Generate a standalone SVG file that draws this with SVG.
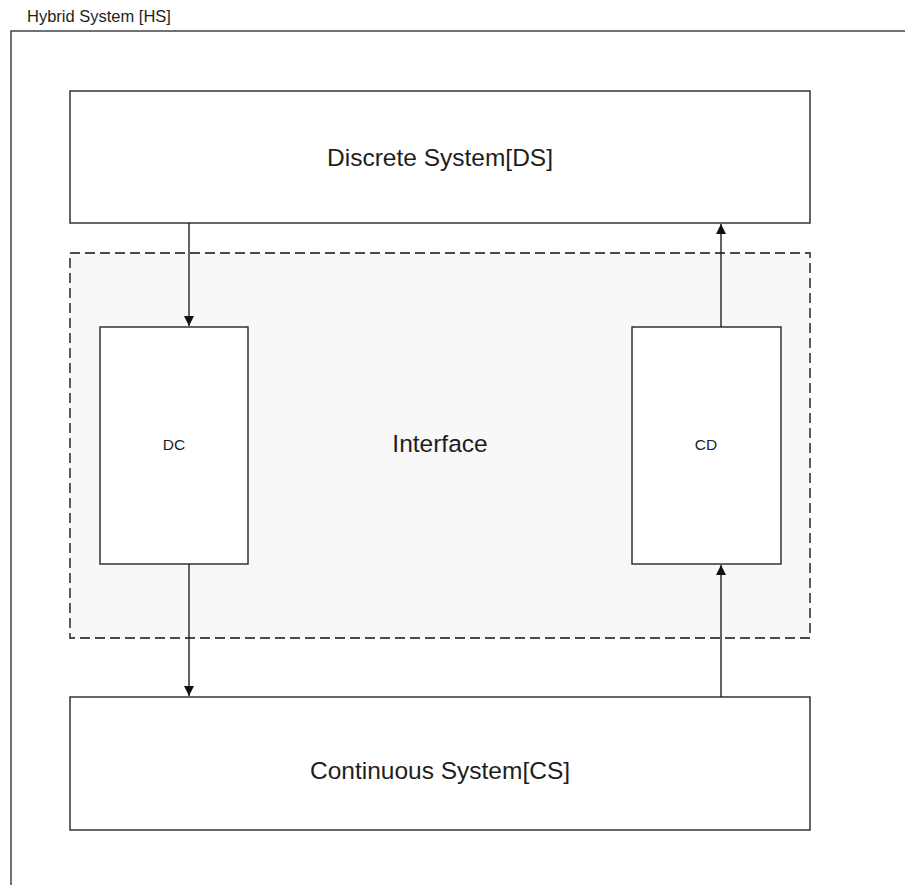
<svg xmlns="http://www.w3.org/2000/svg" width="905" height="885" viewBox="0 0 905 885">
  <style>
    .box { fill: #ffffff; stroke: #333333; stroke-width: 1.5; }
    .iface { fill: #f8f8f8; stroke: #4a4a4a; stroke-width: 1.8; stroke-dasharray: 10 5; }
    .frame { fill: none; stroke: #444444; stroke-width: 1.5; }
    .conn { stroke: #222222; stroke-width: 1.4; fill: none; marker-end: url(#arrow); }
    text { font-family: "Liberation Sans", Arial, sans-serif; fill: #1e1e1e; text-anchor: middle; }
    .big { font-size: 24.5px; }
    .small { font-size: 15.5px; }
    .title { font-size: 16.5px; text-anchor: start; }
  </style>
  <defs>
    <marker id="arrow" viewBox="0 0 10 10" refX="10" refY="5" markerWidth="10" markerHeight="11" markerUnits="userSpaceOnUse" orient="auto">
      <path d="M0,0 L10,5 L0,10 z" fill="#111111"/>
    </marker>
  </defs>
  <rect width="905" height="885" fill="#ffffff"/>

  <!-- outer system frame -->
  <g id="hybrid-system">
    <path class="frame" d="M11,885 V31 H905"/>
    <text class="title" x="27" y="22">Hybrid System [HS]</text>
  </g>

  <g id="interface">
    <rect class="iface" x="70" y="253" width="740" height="385"/>
    <text class="big" x="440" y="452">Interface</text>
  </g>

  <g id="discrete-system">
    <rect class="box" x="70" y="91" width="740" height="132"/>
    <text class="big" x="440" y="166">Discrete System[DS]</text>
  </g>

  <g id="dc">
    <rect class="box" x="100" y="327" width="148" height="237"/>
    <text class="small" x="174" y="450">DC</text>
  </g>

  <g id="cd">
    <rect class="box" x="632" y="327" width="149" height="237"/>
    <text class="small" x="706" y="450">CD</text>
  </g>

  <g id="continuous-system">
    <rect class="box" x="70" y="697" width="740" height="133"/>
    <text class="big" x="440" y="779">Continuous System[CS]</text>
  </g>

  <g id="connectors">
    <line class="conn" x1="189" y1="223" x2="189" y2="326"/>
    <line class="conn" x1="189" y1="564" x2="189" y2="696"/>
    <line class="conn" x1="721" y1="697" x2="721" y2="565"/>
    <line class="conn" x1="721" y1="327" x2="721" y2="224"/>
  </g>
</svg>
